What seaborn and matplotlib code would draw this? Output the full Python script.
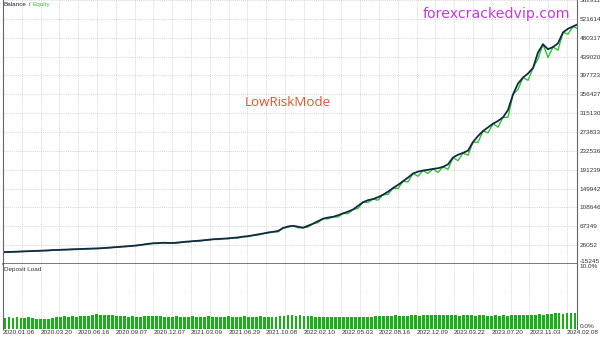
import numpy as np
import pandas as pd
import matplotlib
matplotlib.use("Agg")
import matplotlib.pyplot as plt
import matplotlib.transforms as mtransforms
import seaborn as sns

# ---------------- data ----------------
balance_k = [
    10.5, 11.0, 11.4, 11.9, 12.3, 12.8, 13.1, 13.6, 14.0, 14.6,
    15.2, 15.6, 16.1, 16.5, 17.0, 17.3, 17.8, 18.2, 18.6, 19.0,
    19.6, 20.4, 21.2, 22.0, 22.9, 23.8, 24.6, 25.8, 27.2, 28.9,
    30.1, 30.6, 31.2, 31.0, 30.7, 31.8, 33.0, 33.9, 34.8, 35.6,
    36.5, 37.8, 38.9, 39.6, 40.2, 41.0, 41.9, 43.0, 44.6, 45.8,
    47.5, 49.6, 51.4, 53.8, 55.2, 57.0, 63.5, 67.0, 68.4, 66.5,
    64.2, 68.5, 73.0, 78.5, 84.0, 86.5, 88.0, 91.5, 95.6, 99.5,
    104.0, 112.0, 120.0, 124.5, 127.0, 131.0, 136.5, 143.0, 151.0, 158.0,
    166.0, 174.0, 183.0, 187.0, 189.5, 191.0, 193.0, 194.5, 197.5, 203.0,
    218.0, 224.0, 228.0, 233.0, 252.0, 265.0, 276.0, 284.0, 292.0, 298.0,
    306.0, 322.0, 356.0, 380.0, 393.0, 402.0, 414.0, 448.0, 466.0, 455.0,
    460.0, 468.0, 492.0, 500.0, 505.0, 510.0,
]
equity_dd_k = [
    0.0, 0.3, 0.0, 0.4, 0.0, 0.3, 0.0, 0.4, 0.0, 0.5,
    0.0, 0.5, 0.0, 0.4, 0.0, 0.6, 0.0, 0.5, 0.0, 0.6,
    0.0, 0.7, 0.0, 0.6, 0.0, 0.8, 0.0, 0.7, 0.0, 0.9,
    0.0, 1.0, 0.0, 0.8, 0.0, 1.1, 0.0, 0.9, 0.0, 1.2,
    0.0, 1.0, 0.0, 1.3, 0.0, 1.1, 0.0, 1.5, 0.0, 1.2,
    0.0, 1.6, 0.0, 1.4, 0.0, 2.0, 0.0, 1.8, 0.0, 2.6,
    0.0, 2.8, 0.0, 3.2, 0.0, 3.0, 0.0, 3.8, 0.0, 4.5,
    0.0, 5.5, 0.0, 5.0, 0.0, 6.5, 0.0, 6.0, 0.0, 8.0,
    0.0, 9.5, 0.0, 10.0, 0.0, 8.0, 0.0, 9.0, 0.0, 11.0,
    0.0, 13.0, 0.0, 10.0, 0.0, 14.0, 0.0, 12.0, 0.0, 13.5,
    0.0, 16.0, 0.0, 13.0, 0.0, 15.0, 0.0, 14.0, 0.0, 18.0,
    0.0, 15.0, 0.0, 12.0, 0.0, 10.0,
]
deposit_load = [
    1.75, 1.80, 1.75, 1.80, 1.70, 1.75, 1.80, 1.70, 1.55, 1.50,
    1.50, 1.60, 1.70, 1.85, 1.90, 1.95, 1.90, 1.95, 1.90, 1.95,
    2.00, 1.95, 2.20, 2.25, 2.20, 2.15, 2.20, 2.10, 2.05, 2.00,
    1.95, 1.90, 1.95, 1.90, 1.85, 1.95, 2.00, 2.05, 2.00, 1.95,
    1.90, 1.85, 1.90, 1.95, 1.90, 1.85, 1.90, 1.95, 1.90, 1.85,
    1.90, 1.95, 1.90, 1.90, 1.85, 1.90, 1.95, 1.90, 1.85, 1.90,
    1.95, 1.90, 1.85, 1.90, 1.95, 1.90, 1.90, 1.85, 1.90, 1.95,
    2.05, 2.10, 2.10, 2.05, 2.10, 2.00, 2.05, 2.00, 1.90, 1.85,
    1.85, 1.80, 1.85, 1.80, 1.85, 1.80, 1.80, 1.85, 1.80, 1.85,
    1.90, 1.85, 1.90, 1.95, 2.00, 2.05, 2.00, 2.05, 2.10, 2.05,
    2.00, 2.05, 2.10, 2.10, 2.05, 2.10, 2.10, 2.10, 2.15, 2.10,
    2.10, 2.15, 2.10, 2.10, 2.05, 2.10, 2.15, 2.10, 2.05, 2.10,
    2.10, 2.00, 2.05, 2.10, 2.05, 2.10, 2.05, 2.10, 2.15, 2.10,
    2.15, 2.20, 2.15, 2.20, 2.25, 2.20, 2.30, 2.35, 2.40, 2.40,
    2.35, 2.40, 2.45, 2.40,
]
date_labels = [
    "2020.01.06", "2020.03.20", "2020.06.16", "2020.09.07", "2020.12.07",
    "2021.03.09", "2021.06.29", "2021.10.08", "2022.02.10", "2022.05.03",
    "2022.08.16", "2022.12.09", "2023.03.22", "2023.07.20", "2023.11.03",
    "2024.02.08",
]
y_ticks = [562911, 521614, 480317, 439020, 397723, 356427, 315130, 273833,
           232536, 191239, 149942, 108646, 67349, 26052, -15245]
load_ticks = [0.0, 10.0]

# ---------------- styling ----------------
sns.set_theme(style="white")
plt.rcParams["font.family"] = ["Liberation Sans", "DejaVu Sans"]

W, H = 600, 338
fig = plt.figure(figsize=(W / 100, H / 100), dpi=100)
fig.patch.set_facecolor("white")

L, R = 3, 577
top_bot = 264
bot_bot = 329
ax = fig.add_axes([L / W, 1 - top_bot / H, (R - L) / W, top_bot / H])
axb = fig.add_axes([L / W, 1 - bot_bot / H, (R - L) / W, (bot_bot - top_bot) / H])

n = len(balance_k)
xs = np.arange(n)
bal = np.array(balance_k) * 1000
eq = bal - np.array(equity_dd_k[:n]) * 1000
df = pd.DataFrame({"x": xs, "balance": bal, "equity": eq})

xmax = (R - L) / 5.0
grid_step = 18.8 / 5.0

NAVY = "#132848"
GREEN = "#2fc42f"
BARG = "#17b017"
GRID = "#c8c8c8"
FRAME = "#666666"
TXT = "#333333"
FS = 4.6

sns.lineplot(data=df, x="x", y="equity", ax=ax, color=GREEN, lw=1.0)
sns.lineplot(data=df, x="x", y="balance", ax=ax, color=NAVY, lw=1.3)

ax.set_xlim(0, xmax)
ax.set_ylim(y_ticks[-1], y_ticks[0])
ax.set_xlabel("")
ax.set_ylabel("")
ax.yaxis.tick_right()
ax.set_yticks(y_ticks)
ax.set_yticklabels([str(v) for v in y_ticks], fontsize=FS, color=TXT)
ax.tick_params(axis="y", length=0, pad=2.0)
ax.set_xticks(np.arange(0, xmax + 0.01, grid_step))
ax.tick_params(axis="x", length=0, labelbottom=False)
ax.grid(True, color=GRID, lw=0.5, ls=(0, (1.5, 1.5)))
ax.spines["top"].set_visible(False)
ax.spines["left"].set_color(FRAME)
ax.spines["right"].set_color(FRAME)
ax.spines["bottom"].set_color("#555555")
ax.spines["bottom"].set_linewidth(1.1)
ax.spines["left"].set_linewidth(0.8)
ax.spines["right"].set_linewidth(0.8)
ax.get_yticklabels()[-1].set_va("bottom")

# deposit load bars
nb = len(deposit_load)
bar_pos = np.arange(nb) * (xmax / nb) + xmax / nb / 2
dfb = pd.DataFrame({"pos": bar_pos, "load": deposit_load})
sns.barplot(data=dfb, x="pos", y="load", ax=axb, native_scale=True,
            color=BARG, width=0.72, saturation=1, linewidth=0)
axb.set_xlim(0, xmax)
axb.set_ylim(0, 10)
axb.set_xlabel("")
axb.set_ylabel("")
axb.yaxis.tick_right()
axb.set_yticks(load_ticks)
axb.set_yticklabels([f"{v:.1f}%" for v in load_ticks], fontsize=FS, color=TXT)
axb.tick_params(axis="y", length=0, pad=2.0)
ylbl = axb.get_yticklabels()
ylbl[0].set_va("bottom")
ylbl[1].set_va("top")
axb.set_xticks(np.arange(0, xmax + 0.01, grid_step))
axb.tick_params(axis="x", length=0, labelbottom=False)
axb.grid(True, axis="x", color=GRID, lw=0.5, ls=(0, (1.5, 1.5)))
axb.grid(False, axis="y")
axb.spines["top"].set_visible(False)
axb.spines["bottom"].set_visible(False)
axb.spines["left"].set_color(FRAME)
axb.spines["right"].set_color(FRAME)
axb.spines["left"].set_linewidth(0.8)
axb.spines["right"].set_linewidth(0.8)

# date labels, left aligned at every second grid line
blend = mtransforms.blended_transform_factory(axb.transData, fig.transFigure)
for k, lab in enumerate(date_labels):
    xpos = k * 2 * grid_step
    axb.text(xpos, 1 - 329.5 / H, lab, transform=blend,
             fontsize=FS, color=TXT, ha="left", va="top", clip_on=False)

# header texts, placed one after another
fig.canvas.draw()
renderer = fig.canvas.get_renderer()
xcur = 4
for part, col in [("Balance", NAVY), (" / ", TXT), ("Equity", "#3cbf3c")]:
    t = fig.text(xcur / W, 1 - 4.5 / H, part, fontsize=FS, color=col, ha="left", va="center")
    xcur += t.get_window_extent(renderer).width
fig.text(4 / W, 1 - 269.5 / H, "Deposit Load", fontsize=FS, color=TXT, ha="left", va="center")

fig.text(496 / W, 1 - 14 / H, "forexcrackedvip.com", fontsize=10.2, color="#c43be0",
         ha="center", va="center", family=["DejaVu Sans"])
fig.text(288 / W, 1 - 103 / H, "LowRiskMode", fontsize=9.6, color="#e2542c",
         ha="center", va="center", family=["Open Sans", "DejaVu Sans"])

fig.savefig("out.png", dpi=100, facecolor="white")
